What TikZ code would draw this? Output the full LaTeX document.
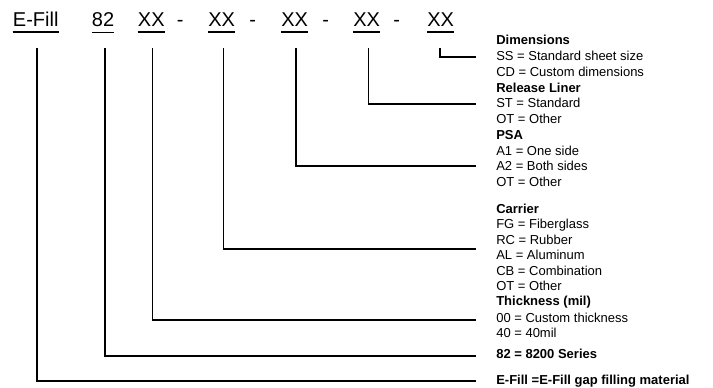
\documentclass[tikz,border=0pt]{standalone}
\usepackage{fontspec}
\setmainfont{Liberation Sans}
\begin{document}
\begin{tikzpicture}[x=0.75pt,y=-0.75pt,
  top/.style={font=\fontsize{15}{18}\selectfont,inner sep=0pt,anchor=base west},
  rt/.style={font=\fontsize{9.75}{12}\selectfont,inner sep=0pt,anchor=base west},
  rtb/.style={rt,font=\fontsize{9.75}{12}\selectfont\bfseries},
  ul/.style={line width=1pt},
  conn/.style={line width=1pt}]
\useasboundingbox (0,0) rectangle (713,387);
% top labels
\node[top] (l1) at (12.7,26.7) {E-Fill};
\node[top] (l2) at (91.7,26.7) {82};
\node[top] (l3) at (137.7,26.7) {XX};
\node[top] (d3) at (176.7,26.7) {-};
\node[top] (l4) at (208,26.7) {XX};
\node[top] (d4) at (249,26.7) {-};
\node[top] (l5) at (281,26.7) {XX};
\node[top] (d5) at (322,26.7) {-};
\node[top] (l6) at (353,26.7) {XX};
\node[top] (d6) at (393,26.7) {-};
\node[top] (l7) at (427,26.7) {XX};
\foreach \n in {l1,l2,l3,l4,l5,l6,l7}
  \draw[ul] ([yshift=-3.75pt]\n.south west) -- ([yshift=-3.75pt]\n.south east);
% right column
\node[rtb] (dim) at (496,44.7) {Dimensions};
\node[rt] (ss) at (496,60.7) {SS = Standard sheet size};
\node[rt] (cd) at (496,76.7) {CD = Custom dimensions};
\node[rtb] (rel) at (496,92.7) {Release Liner};
\node[rt] (st) at (496,107.7) {ST = Standard};
\node[rt] (ot1) at (496,123.7) {OT = Other};
\node[rtb] (psa) at (496,139.7) {PSA};
\node[rt] (a1) at (496,155.7) {A1 = One side};
\node[rt] (a2) at (496,170.7) {A2 = Both sides};
\node[rt] (ot2) at (496,186.7) {OT = Other};
\node[rtb] (car) at (496,213.7) {Carrier};
\node[rt] (fg) at (496,228.7) {FG = Fiberglass};
\node[rt] (rc) at (496,244.7) {RC = Rubber};
\node[rt] (al) at (496,259.7) {AL = Aluminum};
\node[rt] (cb) at (496,275.7) {CB = Combination};
\node[rt] (ot3) at (496,290.7) {OT = Other};
\node[rtb] (thk) at (496,305.7) {Thickness (mil)};
\node[rt] (t00) at (496,322.7) {00 = Custom thickness};
\node[rt] (t40) at (496,337.7) {40 = 40mil};
\node[rtb] (ser) at (496,358.7) {82 = 8200 Series};
\node[rtb] (ef) at (496,384.7) {E-Fill =E-Fill gap filling material};
% connector ends
\coordinate (s1) at (37,48);   \coordinate (e1) at (476,381);
\coordinate (s2) at (105,48);  \coordinate (e2) at (476,356);
\coordinate (s3) at (152.5,48);\coordinate (e3) at (476,320);
\coordinate (s4) at (223.5,48);\coordinate (e4) at (476,249);
\coordinate (s5) at (296,48);  \coordinate (e5) at (476,166);
\coordinate (s6) at (368.5,48);\coordinate (e6) at (476,104);
\coordinate (s7) at (440,48);  \coordinate (e7) at (476,57);
\foreach \i in {1,...,7}
  \draw[conn] (s\i) |- (e\i);
\end{tikzpicture}
\end{document}
